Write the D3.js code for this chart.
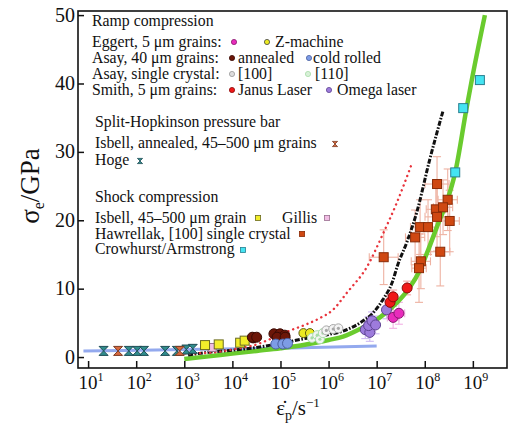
<!DOCTYPE html>
<html lang="en">
<head>
<meta charset="UTF-8">
<title>Flow stress vs plastic strain rate</title>
<script src="https://cdn.jsdelivr.net/npm/d3@7"></script>
<style>
    body { margin: 0; background: #fff; }
    text { font-family: "Liberation Serif", "DejaVu Serif", serif; fill: #111; }
</style>
</head>
<body>
<svg id="chart" width="515" height="430"></svg>
<script>
    // axis ticks
    var xTickPowers = [1, 2, 3, 4, 5, 6, 7, 8, 9];
    var yTicks = [0, 10, 20, 30, 40, 50];

    // model / fit curves  [strain rate, stress GPa]
    var greenCurve = [[1e3, -0.3], [3.2e3, 0.1], [1e4, 0.5], [3.2e4, 0.9], [1e5, 1.3], [3.2e5, 1.8], [1e6, 2.5], [2e6, 3.0],
        [4.5e6, 4.1], [1.17e7, 5.8], [2.6e7, 7.9], [4.9e7, 10.2], [7.9e7, 12.7], [1.17e8, 15.6], [1.78e8, 19],
        [2.9e8, 22.8], [4.3e8, 27], [7.4e8, 36.4], [9.5e8, 40.5], [1.78e9, 50]];
    var blackCurve = [[1.2e3, 0.3], [3.2e3, 0.7], [1e4, 1.0], [3.2e4, 1.4], [1e5, 2.0], [3.2e5, 2.7], [1e6, 3.3], [2e6, 3.8],
        [4.5e6, 5.0], [8.5e6, 6.5], [1.35e7, 8.4], [2.1e7, 10.9], [2.75e7, 13.5], [4.3e7, 16.9], [6.9e7, 21.3],
        [1.26e8, 28.8], [2.4e8, 36]];
    var redCurve = [[8e2, 0.5], [3e3, 0.6], [1e4, 1.1], [3.7e4, 2.0], [6e4, 2.6], [1.6e5, 3.9], [3.5e5, 4.8], [6.6e5, 5.7],
        [1.23e6, 6.9], [2.4e6, 9.4], [6.3e6, 13.2], [1.35e7, 18], [2.6e7, 22.5], [5.4e7, 28.3]];
    var blueCurve = [[8e0, 0.9], [1e3, 1.1], [1e5, 1.3], [1e7, 1.6]];

    // Split-Hopkinson pressure bar
    var hoge = [[2.1e1, 0.9], [7e1, 0.9], [1.05e2, 0.9], [1.45e2, 0.9], [4e2, 0.9], [7e2, 0.9], [1.1e3, 1.1], [1.5e3, 1.2]];
    var isbellShpb = [[4.2e1, 0.9], [8e2, 0.9]];

    // shock compression
    var isbellShock = [[2.7e3, 1.75], [5.2e3, 1.85], [1.45e4, 2.1], [1.8e4, 2.4]];
    var gillis = [[3.8e3, 1.4]];
    var hawrellakRate = [1.4e7, 1.8e8, 3e8, 1.7e8, 2.4e8, 1.8e8, 3.3e8, 8e7, 1.17e8, 6.3e7, 2.1e8, 8.3e7, 7.6e7];
    var hawrellakStress = [14.6, 25.3, 23.0, 21.6, 21.9, 20.5, 19.9, 19.0, 19.0, 17.5, 15.4, 14.0, 13.0];
    var hawrellakStressErr = [4, 4, 4.5, 4, 4, 5, 4.5, 4, 4, 4, 5, 4, 5];
    var hawrellakRateErr = [0.3, 0.25, 0.2, 0.2, 0.2, 0.25, 0.2, 0.2, 0.2, 0.2, 0.2, 0.2, 0.15]; // decades
    var crowhurst = [[4.3e8, 27], [6.3e8, 36.4], [1.4e9, 40.5]];

    // ramp compression
    var eggert = [[2.2e7, 5.8], [2.9e7, 6.4]];
    var zMachine = [[3e5, 3.5], [4.1e5, 3.5]];
    var asayAnnealed = [[2.7e4, 2.8], [2.6e4, 2.9], [3.2e4, 2.9], [7.3e4, 3.4], [9.8e4, 3.4], [1.23e5, 3.2], [8.5e4, 2.9], [1.25e5, 2.9]];
    var asayColdRolled = [[8e4, 1.9], [1.12e5, 1.9], [1.4e5, 2.0]];
    var asay100 = [[9e5, 3.9], [1.25e6, 4.1], [1.6e6, 4.2]];
    var asay110 = [[4.5e5, 2.8], [5.8e5, 3.2], [6.6e5, 2.6], [7.6e5, 3.5]];
    var smithJanus = [[1.9e7, 8.0], [2.2e7, 8.8], [4.3e7, 10.1]];
    var smithOmega = [[5.8e6, 4.0], [7.2e6, 3.6], [6.8e6, 4.6], [8e6, 5.3], [9.5e6, 4.7], [1.6e7, 6.9]];

    var svg = d3.select("#chart");
    var mLeft = 78, mRight = 507, mTop = 11, mBottom = 368;

    var x = d3.scaleLog().domain([Math.pow(10, 0.79), Math.pow(10, 9.71)]).range([mLeft, mRight]);
    var y = d3.scaleLinear().domain([-1.6, 50.6]).range([mBottom, mTop]);

    var plot = svg.append("g");
    var line = d3.line()
        .x(function (d) { return x(d[0]); })
        .y(function (d) { return y(d[1]); })
        .curve(d3.curveMonotoneX);

    //background line
    plot.append("path").datum(blueCurve).attr("d", line)
        .attr("fill", "none").attr("stroke", "#93a9ee").attr("stroke-width", 3);

    //error bars
    function errorBars(rows, color) {
        var g = plot.append("g").attr("stroke", color).attr("stroke-width", 1.1).attr("fill", "none");
        rows.forEach(function (r) {
            var cx = x(r.x), cy = y(r.y);
            if (r.dy) {
                var y0 = y(r.y - r.dy), y1 = y(r.y + r.dy);
                g.append("line").attr("x1", cx).attr("x2", cx).attr("y1", y0).attr("y2", y1);
                g.append("line").attr("x1", cx - 4).attr("x2", cx + 4).attr("y1", y0).attr("y2", y0);
                g.append("line").attr("x1", cx - 4).attr("x2", cx + 4).attr("y1", y1).attr("y2", y1);
            }
            if (r.dx) {
                var x0 = x(r.x / Math.pow(10, r.dx)), x1 = x(r.x * Math.pow(10, r.dx));
                g.append("line").attr("x1", x0).attr("x2", x1).attr("y1", cy).attr("y2", cy);
                g.append("line").attr("x1", x0).attr("x2", x0).attr("y1", cy - 4).attr("y2", cy + 4);
                g.append("line").attr("x1", x1).attr("x2", x1).attr("y1", cy - 4).attr("y2", cy + 4);
            }
        });
    }

    errorBars(hawrellakRate.map(function (r, i) {
        return { x: r, y: hawrellakStress[i], dy: hawrellakStressErr[i], dx: hawrellakRateErr[i] };
    }), "#eeb2a2");
    errorBars(smithOmega.map(function (d) { return { x: d[0], y: d[1], dy: 1.3 }; }), "#cdb8f2");
    errorBars(eggert.map(function (d) { return { x: d[0], y: d[1], dy: 1.6, dx: 0.12 }; }), "#f2b0e4");
    errorBars(smithJanus.map(function (d) { return { x: d[0], y: d[1], dy: 1.0 }; }), "#f3a8a8");

    //curves
    plot.append("path").datum(greenCurve).attr("d", line)
        .attr("fill", "none").attr("stroke", "#6acb2e").attr("stroke-width", 4.5);
    plot.append("path").datum(blackCurve).attr("d", line)
        .attr("fill", "none").attr("stroke", "#111").attr("stroke-width", 3)
        .attr("stroke-dasharray", "5,1.6,1.6,1.6");
    plot.append("path").datum(redCurve).attr("d", line)
        .attr("fill", "none").attr("stroke", "#e8343c").attr("stroke-width", 2.4)
        .attr("stroke-linecap", "round").attr("stroke-dasharray", "0.1,5");

    //markers
    function circles(g, data, fill, stroke, r) {
        g.selectAll(null).data(data).enter().append("circle")
            .attr("cx", function (d) { return x(d[0]); })
            .attr("cy", function (d) { return y(d[1]); })
            .attr("r", r).attr("fill", fill).attr("stroke", stroke).attr("stroke-width", 1);
    }
    function ringDots(g, data, ring, r) {
        circles(g, data, "#f4f4f4", ring, r);
        circles(g, data, ring, "none", r * 0.35);
    }
    function squares(g, data, fill, stroke, s) {
        g.selectAll(null).data(data).enter().append("rect")
            .attr("x", function (d) { return x(d[0]) - s / 2; })
            .attr("y", function (d) { return y(d[1]) - s / 2; })
            .attr("width", s).attr("height", s)
            .attr("fill", fill).attr("stroke", stroke).attr("stroke-width", 1);
    }
    function bowties(g, data, fill, stroke, s) {
        g.selectAll(null).data(data).enter().append("path")
            .attr("d", "M" + (-s) + "," + (-s) + "L" + s + "," + (-s) + "L" + (-s) + "," + s + "L" + s + "," + s + "Z")
            .attr("transform", function (d) { return "translate(" + x(d[0]) + "," + y(d[1]) + ")"; })
            .attr("fill", fill).attr("stroke", stroke).attr("stroke-width", 1);
    }

    var marks = plot.append("g");
    bowties(marks, hoge, "#2f8c8c", "#1d4d55", 4.5);
    bowties(marks, isbellShpb, "#d8693e", "#7a3a22", 4.5);
    squares(marks, gillis, "#f1bde4", "#9a7090", 8);
    squares(marks, isbellShock, "#f2ee2a", "#6a6a20", 9);
    circles(marks, asayAnnealed, "#6c1608", "#3a0a04", 5);
    circles(marks, asayColdRolled, "#7d9ce6", "#4a5fa0", 5);
    circles(marks, zMachine, "#ecea22", "#5a5a10", 4.5);
    ringDots(marks, asay110, "#a7dca7", 4.5);
    ringDots(marks, asay100, "#a8a8a8", 4.5);
    circles(marks, smithOmega, "#9d7bdc", "#5e4492", 5);
    circles(marks, eggert, "#e82cbc", "#8a1770", 5);
    circles(marks, smithJanus, "#f01818", "#8a0a0a", 5);
    squares(marks, hawrellakRate.map(function (r, i) { return [r, hawrellakStress[i]]; }), "#cf4812", "#8a2c08", 9);
    squares(marks, crowhurst, "#44e4f2", "#2a7f90", 9);

    //axes
    var xAxis = d3.axisBottom(x)
        .tickValues(xTickPowers.map(function (p) { return Math.pow(10, p); }))
        .tickSize(-7).tickFormat("");
    var gx = svg.append("g").attr("transform", "translate(0," + mBottom + ")").call(xAxis);
    var yAxis = d3.axisLeft(y).tickValues(yTicks).tickSize(-6).tickFormat("");
    var gy = svg.append("g").attr("transform", "translate(" + mLeft + ",0)").call(yAxis);
    [gx, gy].forEach(function (g) {
        g.select(".domain").remove();
        g.selectAll(".tick line").attr("stroke", "#111").attr("stroke-width", 1.5);
    });

    svg.append("rect").attr("x", mLeft).attr("y", mTop)
        .attr("width", mRight - mLeft).attr("height", mBottom - mTop)
        .attr("fill", "none").attr("stroke", "#111").attr("stroke-width", 1.6);

    xTickPowers.forEach(function (p) {
        var t = svg.append("text").attr("x", x(Math.pow(10, p)) + 3).attr("y", 389)
            .attr("text-anchor", "middle").style("font-size", "19px");
        t.append("tspan").text("10");
        t.append("tspan").attr("dy", -8).style("font-size", "12px").text(p);
    });
    yTicks.forEach(function (v) {
        svg.append("text").attr("x", 75).attr("y", y(v) + 6.5)
            .attr("text-anchor", "end").style("font-size", "20px").text(v);
    });

    //axis titles
    var xt = svg.append("text").attr("x", 298).attr("y", 415)
        .attr("text-anchor", "middle").style("font-size", "21px");
    xt.append("tspan").text("ε\u0307");
    xt.append("tspan").attr("dy", 5).style("font-size", "14px").text("p");
    xt.append("tspan").attr("dy", -5).text("/s");
    xt.append("tspan").attr("dy", -8).style("font-size", "13px").text("\u22121");

    var yt = svg.append("text").attr("transform", "translate(39,186) rotate(-90)")
        .attr("text-anchor", "middle").style("font-size", "27px");
    yt.append("tspan").text("σ");
    yt.append("tspan").attr("dy", 5).style("font-size", "16px").text("e");
    yt.append("tspan").attr("dy", -5).text("/GPa");

    //legend
    var lg = svg.append("g").style("font-size", "15.8px");
    function ltext(tx, ty, s) { lg.append("text").attr("x", tx).attr("y", ty).text(s); }
    function lcircle(cx, cy, fill, stroke) {
        lg.append("circle").attr("cx", cx).attr("cy", cy).attr("r", 2.6)
            .attr("fill", fill).attr("stroke", stroke).attr("stroke-width", 0.8);
    }
    function lsquare(cx, cy, fill, stroke) {
        lg.append("rect").attr("x", cx - 2.6).attr("y", cy - 2.6).attr("width", 5.2).attr("height", 5.2)
            .attr("fill", fill).attr("stroke", stroke).attr("stroke-width", 0.8);
    }
    function lbowtie(cx, cy, fill, stroke) {
        lg.append("path").attr("d", "M-2.6,-2.6L2.6,-2.6L-2.6,2.6L2.6,2.6Z")
            .attr("transform", "translate(" + cx + "," + cy + ")")
            .attr("fill", fill).attr("stroke", stroke).attr("stroke-width", 0.8);
    }

    ltext(92, 26, "Ramp compression");
    ltext(92, 47, "Eggert, 5 μm grains:");
    lcircle(234, 42, "#e82cbc", "#8a1770");
    lcircle(267, 42, "#ecea22", "#444");
    ltext(275, 47, "Z-machine");
    ltext(92, 63, "Asay, 40 μm grains:");
    lcircle(232, 58, "#6c1608", "#3a0a04");
    ltext(238, 63, "annealed");
    lcircle(309, 58, "#7d9ce6", "#4a5fa0");
    ltext(313, 63, "cold rolled");
    ltext(92, 79, "Asay, single crystal:");
    lcircle(232, 74, "#dcdcdc", "#999");
    ltext(238, 79, "[100]");
    lcircle(308, 74, "#d8f0d8", "#a7dca7");
    ltext(315, 79, "[110]");
    ltext(92, 95, "Smith, 5 μm grains:");
    lcircle(232, 90, "#f01818", "#8a0a0a");
    ltext(238, 95, "Janus Laser");
    lcircle(329, 90, "#9d7bdc", "#5e4492");
    ltext(337, 95, "Omega laser");

    ltext(95, 127, "Split-Hopkinson pressure bar");
    ltext(95, 148, "Isbell, annealed, 45–500 μm grains");
    lbowtie(335, 144, "#d8693e", "#7a3a22");
    ltext(95, 165, "Hoge");
    lbowtie(140, 161, "#2f8c8c", "#1d4d55");

    ltext(95, 202, "Shock compression");
    ltext(95, 223, "Isbell, 45–500 μm grain");
    lsquare(258, 218, "#f2ee2a", "#6a6a20");
    ltext(282, 223, "Gillis");
    lsquare(327, 218, "#f1bde4", "#9a7090");
    ltext(95, 239, "Hawrellak, [100] single crystal");
    lsquare(302, 234, "#cf4812", "#8a2c08");
    ltext(95, 254, "Crowhurst/Armstrong");
    lsquare(243, 250, "#44e4f2", "#2a7f90");
</script>
</body>
</html>
